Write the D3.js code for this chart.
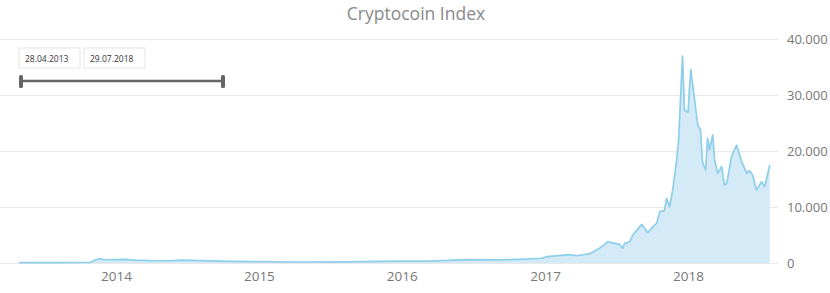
<!DOCTYPE html>
<html lang="en">
  <head>
    <meta charset="utf-8">
    <title>Cryptocoin Index</title>
    <script src="https://d3js.org/d3.v7.min.js"></script>
    <style>
      body { margin: 0; background: #fff; }
      text { font-family: "Open Sans", "Noto Sans", sans-serif; }
    </style>
  </head>
  <body>
    <svg id="chart"></svg>
    <script>
      // 1) data
      const dates = [
        "2013-04-28","2013-08-01","2013-10-27","2013-11-19","2013-11-27","2013-12-11",
        "2014-01-01","2014-01-24","2014-02-19","2014-03-29","2014-05-20","2014-06-15",
        "2014-08-06","2014-10-23","2015-01-01","2015-04-10","2015-08-10","2015-11-05",
        "2016-01-01","2016-03-15","2016-06-15","2016-09-10","2016-10-25","2016-12-22",
        "2017-01-06","2017-03-05","2017-03-23","2017-04-25","2017-05-20","2017-06-10",
        "2017-07-10","2017-07-18","2017-07-23","2017-08-05","2017-08-13","2017-09-05",
        "2017-09-20","2017-10-03","2017-10-13","2017-10-21","2017-11-02","2017-11-07",
        "2017-11-15","2017-11-23","2017-12-03","2017-12-08","2017-12-18","2017-12-23",
        "2018-01-01","2018-01-08","2018-01-18","2018-01-26","2018-02-02","2018-02-07",
        "2018-02-15","2018-02-20","2018-02-25","2018-03-05","2018-03-10","2018-03-18",
        "2018-03-28","2018-04-04","2018-04-10","2018-04-22","2018-05-05","2018-05-18",
        "2018-05-31","2018-06-07","2018-06-15","2018-06-25","2018-07-08","2018-07-16",
        "2018-07-29"
      ];
      const values = [
        60, 70, 120, 800, 650, 580,
        620, 660, 520, 420, 400, 500,
        420, 300, 230, 180, 200, 300,
        340, 330, 600, 560, 650, 850,
        1130, 1480, 1300, 1660, 2620, 3800,
        3330, 2620, 3510, 3800, 5000, 6900,
        5410, 6480, 7090, 9160, 9340, 11550,
        10050, 13040, 18390, 21960, 36960, 27320,
        26840, 34590, 29110, 24640, 23750, 18090,
        16610, 22270, 20180, 22860, 18390, 16010,
        17200, 13930, 14230, 18980, 21070, 18090,
        16010, 16480, 15710, 13040, 14520, 13630,
        17500
      ];
      const yTicks = [0, 10000, 20000, 30000, 40000];
      const xTicks = ["2014-01-01","2015-01-01","2016-01-01","2017-01-01","2018-01-01"];
      const rangeLabels = ["28.04.2013", "29.07.2018"];

      // 2) vars
      const width = 830, height = 293;
      const parse = d3.timeParse("%Y-%m-%d");
      const data = dates.map((d, i) => ({date: parse(d), value: values[i]}));

      const svg = d3.select("#chart")
                    .attr("width", width)
                    .attr("height", height);

      // 3) scales
      const x = d3.scaleTime()
                  .domain([parse("2014-01-01"), parse("2018-01-01")])
                  .range([116, 688]);
      const y = d3.scaleLinear()
                  .domain([0, 40000])
                  .range([263, 39]);

      // 4) grid + y labels
      const fmt = d => d === 0 ? "0" : d3.format(",")(d).replace(/,/g, ".");
      const yAxis = d3.axisRight(y)
                      .tickValues(yTicks)
                      .tickSize(778)
                      .tickPadding(9)
                      .tickFormat(fmt);
      const gy = svg.append("g").call(yAxis);
      gy.select(".domain").remove();
      gy.selectAll(".tick line").attr("stroke", "#e9e9e9");
      gy.selectAll(".tick text")
        .attr("fill", "#777")
        .attr("font-size", 13);

      // 5) x labels
      const xAxis = d3.axisBottom(x)
                      .tickValues(xTicks.map(parse))
                      .tickSize(0)
                      .tickPadding(8)
                      .tickFormat(d3.timeFormat("%Y"));
      const gx = svg.append("g")
                    .attr("transform", "translate(0,263)")
                    .call(xAxis);
      gx.select(".domain").remove();
      gx.selectAll(".tick text")
        .attr("fill", "#777")
        .attr("font-size", 13.5);

      // 6) area + line
      const area = d3.area()
                     .x(d => x(d.date))
                     .y0(y(0))
                     .y1(d => y(d.value));
      const line = d3.line()
                     .x(d => x(d.date))
                     .y(d => y(d.value));

      svg.append("path")
         .datum(data)
         .attr("d", area)
         .attr("fill", "#d5eaf7");
      svg.append("path")
         .datum(data)
         .attr("d", line)
         .attr("fill", "none")
         .attr("stroke", "#8dcfea")
         .attr("stroke-width", 1.7)
         .attr("stroke-linejoin", "round");

      // 7) title
      svg.append("text")
         .attr("x", 416)
         .attr("y", 20)
         .attr("text-anchor", "middle")
         .attr("font-size", 17.5)
         .attr("fill", "#8a8a8a")
         .text("Cryptocoin Index");

      // 8) range selector
      const boxes = svg.selectAll(".box")
                       .data(rangeLabels)
                       .enter()
                       .append("g")
                       .attr("transform", (d, i) => "translate(" + (19 + i * 65) + ",48)");
      boxes.append("rect")
           .attr("width", 61)
           .attr("height", 20)
           .attr("fill", "#fff")
           .attr("stroke", "#e6e6e6");
      boxes.append("text")
           .attr("x", 6)
           .attr("y", 13.5)
           .attr("font-size", 8.5)
           .attr("fill", "#333")
           .text(d => d);

      svg.append("line")
         .attr("x1", 21).attr("x2", 223)
         .attr("y1", 81).attr("y2", 81)
         .attr("stroke", "#666")
         .attr("stroke-width", 2.5);
      svg.selectAll(".handle")
         .data([21, 223])
         .enter()
         .append("rect")
         .attr("x", d => d - 2)
         .attr("y", 75)
         .attr("width", 4)
         .attr("height", 13)
         .attr("rx", 1.5)
         .attr("fill", "#666");
    </script>
  </body>
</html>
